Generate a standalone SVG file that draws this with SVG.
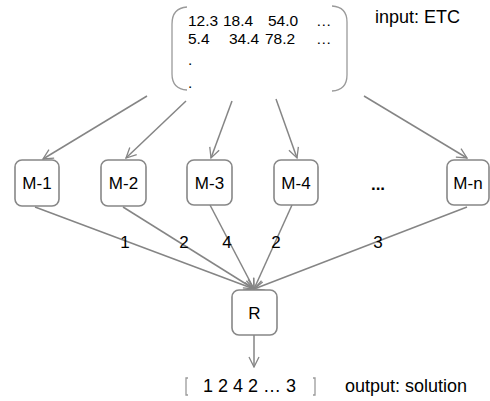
<svg xmlns="http://www.w3.org/2000/svg" width="490" height="401" viewBox="0 0 490 401">
  <style>
    text { font-family: "Liberation Sans", Arial, sans-serif; fill: #000; }
    .mx { font-size: 15.5px; }
    .t18 { font-size: 18px; }
    .node rect { fill: #fff; stroke: #878787; stroke-width: 1.6; }
    .node text { font-size: 17px; text-anchor: middle; }
    .edge { fill: none; stroke: #858585; stroke-width: 1.5; }
    .brk { fill: none; stroke: #9a9a9a; stroke-width: 1.3; }
    .lbl { font-size: 17px; text-anchor: middle; }
  </style>
  <defs>
    <marker id="arrow" viewBox="0 0 12 12" refX="11" refY="6" markerWidth="12" markerHeight="12" markerUnits="userSpaceOnUse" orient="auto">
      <path d="M1,1 L11,6 L1,11" fill="none" stroke="#858585" stroke-width="1.3"/>
    </marker>
  </defs>

  <!-- input matrix (ETC) -->
  <g id="input">
    <path class="brk" d="M187,7 Q172,8 172,24 L172,74 Q172,89 187,90"/>
    <path class="brk" d="M332,6 Q347,7 347,22 L347,75 Q347,90 332,91"/>
    <text class="mx">
      <tspan x="188" y="26">12.3</tspan><tspan x="223" y="26">18.4</tspan><tspan x="268" y="26">54.0</tspan><tspan x="316" y="26">…</tspan>
      <tspan x="188" y="44">5.4</tspan><tspan x="229" y="44">34.4</tspan><tspan x="265" y="44">78.2</tspan><tspan x="316" y="44">…</tspan>
      <tspan x="188" y="65">.</tspan>
      <tspan x="188" y="88">.</tspan>
    </text>
    <text class="t18" x="375" y="23">input: ETC</text>
  </g>

  <!-- connectors -->
  <g id="connectors">
    <line class="edge" x1="147" y1="96" x2="43" y2="159" marker-end="url(#arrow)"/>
    <line class="edge" x1="186" y1="101" x2="126" y2="158" marker-end="url(#arrow)"/>
    <line class="edge" x1="232" y1="101" x2="211" y2="158" marker-end="url(#arrow)"/>
    <line class="edge" x1="276" y1="99" x2="297" y2="158" marker-end="url(#arrow)"/>
    <line class="edge" x1="364" y1="96" x2="467" y2="158" marker-end="url(#arrow)"/>

    <line class="edge" x1="35" y1="207" x2="254" y2="289" marker-end="url(#arrow)"/>
    <line class="edge" x1="123" y1="207" x2="254" y2="289" marker-end="url(#arrow)"/>
    <line class="edge" x1="210" y1="205" x2="254" y2="289" marker-end="url(#arrow)"/>
    <line class="edge" x1="292" y1="205" x2="254" y2="289" marker-end="url(#arrow)"/>
    <line class="edge" x1="467" y1="207" x2="254" y2="289" marker-end="url(#arrow)"/>

    <line class="edge" x1="254" y1="335" x2="254" y2="367" marker-end="url(#arrow)"/>

    <text class="lbl" x="125" y="248">1</text>
    <text class="lbl" x="184" y="248">2</text>
    <text class="lbl" x="227" y="248">4</text>
    <text class="lbl" x="276" y="248">2</text>
    <text class="lbl" x="378" y="248">3</text>
  </g>

  <!-- model nodes -->
  <g id="m1" class="node"><rect x="15" y="160" width="44" height="46" rx="7"/><text x="37" y="189">M-1</text></g>
  <g id="m2" class="node"><rect x="101" y="160" width="45" height="46" rx="7"/><text x="123.5" y="189">M-2</text></g>
  <g id="m3" class="node"><rect x="187" y="160" width="45" height="45" rx="7"/><text x="209.5" y="189">M-3</text></g>
  <g id="m4" class="node"><rect x="274" y="160" width="44" height="45" rx="7"/><text x="296" y="189">M-4</text></g>
  <g id="dots"><text x="378" y="190" style="font-size:17px;font-weight:bold;text-anchor:middle">...</text></g>
  <g id="mn" class="node"><rect x="447" y="160" width="42" height="45" rx="7"/><text x="468" y="189">M-n</text></g>

  <!-- reducer -->
  <g id="r" class="node"><rect x="232" y="290" width="45" height="45" rx="7"/><text x="254.5" y="319">R</text></g>

  <!-- output vector -->
  <g id="output">
    <path class="brk" d="M188,378 L186,378 L186,395 L188,395"/>
    <path class="brk" d="M313,378 L315,378 L315,395 L313,395"/>
    <text class="t18" x="203" y="392">1 2 4 2 … 3</text>
    <text class="t18" x="345" y="392">output: solution</text>
  </g>
</svg>
